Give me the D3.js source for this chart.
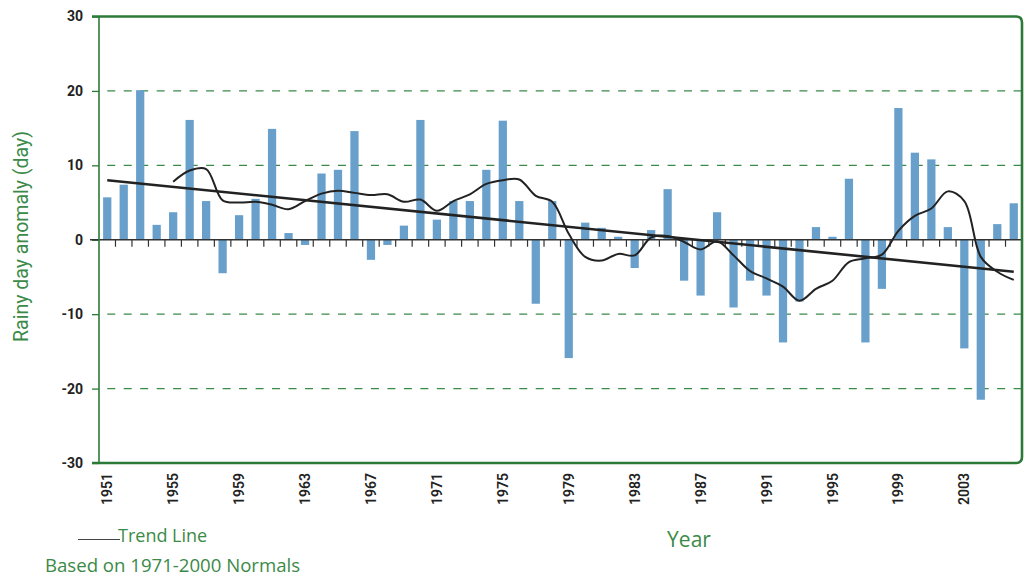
<!DOCTYPE html>
<html><head><meta charset="utf-8">
<script src="https://cdn.jsdelivr.net/npm/d3@7"></script>
<style>body{margin:0;background:#fff;} svg{display:block;}</style>
</head><body><svg id="c" width="1032" height="580"></svg>
<script>
const years = [1951,1952,1953,1954,1955,1956,1957,1958,1959,1960,
  1961,1962,1963,1964,1965,1966,1967,1968,1969,1970,
  1971,1972,1973,1974,1975,1976,1977,1978,1979,1980,
  1981,1982,1983,1984,1985,1986,1987,1988,1989,1990,
  1991,1992,1993,1994,1995,1996,1997,1998,1999,2000,
  2001,2002,2003,2004,2005,2006];
const anomalies = [5.7,7.4,20.1,2.0,3.7,16.1,5.2,-4.5,3.3,5.5,
  14.9,0.9,-0.7,8.9,9.4,14.6,-2.7,-0.7,1.9,16.1,
  2.7,5.2,5.2,9.4,16.0,5.2,-8.6,5.2,-15.9,2.3,
  1.6,0.4,-3.8,1.3,6.8,-5.5,-7.5,3.7,-9.1,-5.5,
  -7.5,-13.8,-8.3,1.7,0.4,8.2,-13.8,-6.6,17.7,11.7,
  10.8,1.7,-14.6,-21.5,2.1,4.9];
const smoothYears = [1955,1956,1957,1958,1959,1960,1961,1962,1963,1964,1965,1966,1967,1968,1969,1970,
  1971,1972,1973,1974,1975,1976,1977,1978,1979,1980,1981,1982,1983,1984,1985,1986,1987,1988,1989,1990,
  1991,1992,1993,1994,1995,1996,1997,1998,1999,2000,2001,2002,2003,2004,2005,2006];
const smoothValues = [7.8,9.3,9.5,5.3,5.0,5.1,4.7,4.1,5.2,6.2,6.6,6.3,6.0,6.1,5.1,5.4,
  3.9,5.2,6.1,7.5,8.0,8.1,5.9,5.1,0.8,-2.3,-2.8,-1.9,-2.1,0.3,0.5,-0.3,-1.3,-0.2,-2.1,-4.2,
  -5.2,-6.3,-8.2,-6.6,-5.5,-3.0,-2.5,-2.0,1.2,3.2,4.2,6.5,5.2,-2.3,-4.3,-5.4];
const trendYears = [1951, 2006];
const trendValues = [8.0, -4.3];
const yTicks = [-30,-20,-10,0,10,20,30];
const gridTicks = [-20,-10,10,20];
const xTickLabels = [1951,1955,1959,1963,1967,1971,1975,1979,1983,1987,1991,1995,1999,2003];

const GREEN = '#2c7a38', TGREEN = '#3b8a47', BLUE = '#68a0cb', DARK = '#222';
const svg = d3.select('#c');
const L = 99, R = 1022, T = 16.5, B = 463;
const x = d3.scaleBand().domain(years).range([L, R]).paddingInner(0.5).paddingOuter(0.25);
const y = d3.scaleLinear().domain([-30, 30]).range([B, T]);
const cx = d => x(d) + x.bandwidth() / 2;
const step = x.step();

// grid lines (dashed)
svg.append('g').selectAll('line').data(gridTicks).join('line')
  .attr('x1', cx(years[0])).attr('x2', R)
  .attr('y1', d => y(d)).attr('y2', d => y(d))
  .attr('stroke', TGREEN).attr('stroke-width', 1.3)
  .attr('stroke-dasharray', `8,${(step - 8).toFixed(2)}`);

// y axis
const yAxis = svg.append('g').attr('transform', `translate(${L},0)`)
  .call(d3.axisLeft(y).tickValues(yTicks).tickSize(7).tickPadding(9).tickFormat(d => String(d)));
yAxis.select('.domain').remove();
yAxis.selectAll('line').attr('stroke', GREEN).attr('stroke-width', 1.3);
yAxis.selectAll('text').attr('fill', DARK).style('font-family', 'Roboto, sans-serif')
  .style('font-weight', 700).style('font-size', '14px');

// bars
svg.append('g').selectAll('rect').data(years).join('rect')
  .attr('x', d => x(d)).attr('width', x.bandwidth())
  .attr('y', (d, i) => y(Math.max(0, anomalies[i])))
  .attr('height', (d, i) => Math.abs(y(anomalies[i]) - y(0)))
  .attr('fill', BLUE);

// zero line and ticks
svg.append('line').attr('x1', 90).attr('x2', R).attr('y1', y(0)).attr('y2', y(0))
  .attr('stroke', '#333').attr('stroke-width', 1.5);
svg.append('g').selectAll('line').data(years.slice(1)).join('line')
  .attr('x1', d => x(d) - step * x.paddingInner() / 2).attr('x2', d => x(d) - step * x.paddingInner() / 2)
  .attr('y1', y(0)).attr('y2', y(0) + 7)
  .attr('stroke', '#333').attr('stroke-width', 1.2);

// smooth curve
const smoothData = smoothYears.map((yr, i) => [cx(yr), y(smoothValues[i])]);
svg.append('path').attr('d', d3.line().curve(d3.curveCatmullRom.alpha(0.5))(smoothData))
  .attr('fill', 'none').attr('stroke', DARK).attr('stroke-width', 2);

// trend line
const trendData = trendYears.map((yr, i) => [cx(yr), y(trendValues[i])]);
svg.append('path').attr('d', d3.line()(trendData))
  .attr('fill', 'none').attr('stroke', DARK).attr('stroke-width', 2.6);

// frame
const r = 6;
svg.append('path')
  .attr('d', `M92,${T} H${R - r} Q${R},${T} ${R},${T + r} V${B - r} Q${R},${B} ${R - r},${B} H92`)
  .attr('fill', 'none').attr('stroke', GREEN).attr('stroke-width', 2.6);
svg.append('line').attr('x1', L).attr('x2', L).attr('y1', T).attr('y2', B)
  .attr('stroke', GREEN).attr('stroke-width', 1.6);

// x labels
const xAxis = svg.append('g').attr('transform', `translate(0,${B})`)
  .call(d3.axisBottom(x).tickValues(xTickLabels).tickSize(0));
xAxis.select('.domain').remove();
xAxis.selectAll('text')
  .attr('transform', 'rotate(-90)').attr('x', -10).attr('y', 0).attr('dy', '0.36em')
  .style('text-anchor', 'end').attr('fill', DARK)
  .style('font-family', 'Roboto, sans-serif').style('font-weight', 600).style('font-size', '14px');

// titles
svg.append('text').attr('transform', `translate(28,236.5) rotate(-90)`)
  .attr('text-anchor', 'middle').attr('fill', TGREEN)
  .style('font-family', 'Roboto, sans-serif').style('font-size', '19.5px')
  .text('Rainy day anomaly (day)');
svg.append('text').attr('x', 689).attr('y', 547).attr('text-anchor', 'middle').attr('fill', TGREEN)
  .style('font-family', '"Open Sans", sans-serif').style('font-size', '21px').text('Year');

// legend
svg.append('line').attr('x1', 78).attr('x2', 120).attr('y1', 539.5).attr('y2', 539.5)
  .attr('stroke', '#444').attr('stroke-width', 1.2);
svg.append('text').attr('x', 118).attr('y', 542).attr('fill', TGREEN)
  .style('font-family', '"Open Sans", sans-serif').style('font-size', '18px').text('Trend Line');
svg.append('text').attr('x', 45).attr('y', 572).attr('fill', TGREEN)
  .style('font-family', '"Open Sans", sans-serif').style('font-size', '18.6px').text('Based on 1971-2000 Normals');
</script></body></html>
